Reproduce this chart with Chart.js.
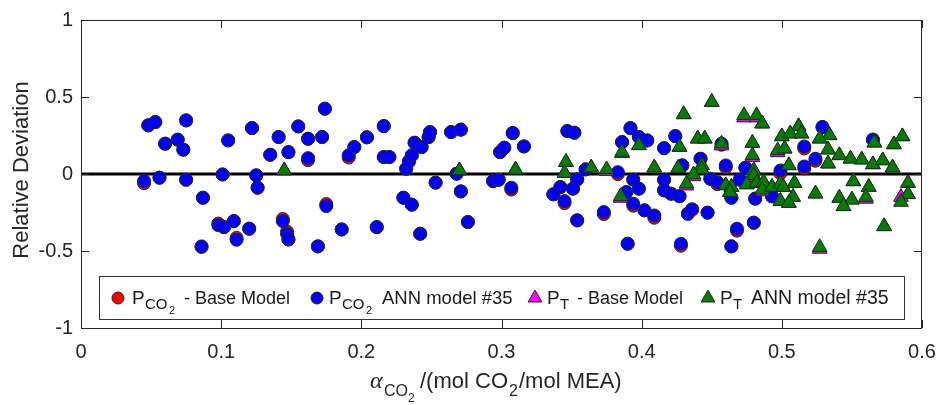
<!DOCTYPE html>
<html>
<head>
<meta charset="utf-8">
<title>Relative deviation vs CO2 loading</title>
<script src="https://cdn.jsdelivr.net/npm/chart.js@4.4.1/dist/chart.umd.min.js"></script>
<style>
  html, body { margin: 0; padding: 0; background: #fff; }
</style>
</head>
<body>
<canvas id="dev-chart" width="938" height="405"></canvas>
<script>
// CO2 partial pressure points: loading, ANN deviation, base model deviation
const co2Alpha = [
  0.045, 0.048, 0.053, 0.056, 0.060, 0.069, 0.073, 0.075, 0.075, 0.087,
  0.086, 0.098, 0.102, 0.105, 0.101, 0.109, 0.111, 0.120, 0.122, 0.125,
  0.126, 0.135, 0.141, 0.148, 0.155, 0.162, 0.162, 0.172, 0.174, 0.144,
  0.147, 0.148, 0.169, 0.175, 0.186, 0.191, 0.195, 0.204, 0.216, 0.216,
  0.220, 0.211, 0.230, 0.236, 0.232, 0.234, 0.236, 0.238, 0.243, 0.248,
  0.249, 0.242, 0.253, 0.264, 0.271, 0.268, 0.271, 0.276, 0.294, 0.298,
  0.299, 0.302, 0.308, 0.316, 0.307, 0.347, 0.352, 0.354, 0.342, 0.351,
  0.337, 0.345, 0.354, 0.360, 0.383, 0.373, 0.392, 0.386, 0.398, 0.394,
  0.398, 0.389, 0.394, 0.402, 0.390, 0.404, 0.424, 0.416, 0.429, 0.442,
  0.457, 0.460, 0.474, 0.499, 0.416, 0.416, 0.421, 0.427, 0.449, 0.454,
  0.464, 0.470, 0.481, 0.493, 0.409, 0.433, 0.436, 0.447, 0.468, 0.480,
  0.428, 0.464, 0.529, 0.516, 0.524, 0.516, 0.565
];
const co2AnnDev = [
  -0.046, 0.316, 0.337, -0.024, 0.197, 0.223, 0.158, 0.348, -0.037, -0.154,
  -0.470, -0.332, -0.345, 0.218, -0.003, -0.306, -0.427, -0.355, 0.298, -0.009,
  -0.089, 0.125, 0.240, 0.142, 0.309, 0.229, 0.103, 0.240, 0.424, -0.306,
  -0.388, -0.425, -0.470, -0.208, -0.360, 0.121, 0.175, 0.238, 0.311, 0.110,
  0.110, -0.345, -0.154, -0.199, 0.034, 0.082, 0.121, 0.203, 0.175, 0.240,
  0.272, -0.388, -0.056, 0.272, 0.288, 0.002, -0.113, -0.312, -0.046, -0.037,
  0.142, 0.171, 0.266, 0.179, -0.089, 0.279, 0.268, -0.035, -0.085, -0.095,
  -0.132, -0.176, -0.301, 0.030, 0.012, -0.247, 0.298, 0.207, 0.240, -0.037,
  -0.095, -0.118, -0.193, -0.236, -0.453, 0.218, 0.246, 0.168, 0.056, 0.099,
  0.197, 0.056, 0.041, 0.023, -0.037, -0.106, -0.128, -0.144, -0.031, -0.053,
  -0.154, -0.037, -0.160, -0.145, -0.269, -0.258, -0.230, -0.251, -0.355, -0.316,
  -0.453, -0.470, 0.305, 0.179, 0.099, 0.049, 0.223
];
const co2BaseDev = [
  -0.060, 0.316, 0.337, -0.024, 0.197, 0.223, 0.158, 0.348, -0.037, -0.154,
  -0.474, -0.322, -0.345, 0.218, -0.003, -0.306, -0.415, -0.355, 0.298, -0.009,
  -0.089, 0.125, 0.240, 0.142, 0.309, 0.229, 0.090, 0.240, 0.424, -0.292,
  -0.374, -0.425, -0.470, -0.195, -0.360, 0.107, 0.175, 0.238, 0.311, 0.110,
  0.110, -0.345, -0.154, -0.199, 0.034, 0.082, 0.121, 0.203, 0.175, 0.240,
  0.272, -0.388, -0.056, 0.272, 0.288, 0.002, -0.113, -0.312, -0.046, -0.037,
  0.142, 0.171, 0.266, 0.179, -0.101, 0.279, 0.268, -0.035, -0.085, -0.095,
  -0.132, -0.189, -0.301, 0.030, -0.001, -0.260, 0.298, 0.207, 0.240, -0.037,
  -0.095, -0.118, -0.206, -0.236, -0.453, 0.218, 0.246, 0.168, 0.056, 0.099,
  0.190, 0.044, 0.041, 0.005, -0.037, -0.106, -0.128, -0.144, -0.031, -0.066,
  -0.154, -0.037, -0.160, -0.145, -0.284, -0.258, -0.230, -0.251, -0.368, -0.316,
  -0.466, -0.470, 0.305, 0.166, 0.086, 0.036, 0.223
];

// total pressure points
const ptAlpha = [
  0.145, 0.270, 0.310, 0.346, 0.345, 0.364, 0.375, 0.386, 0.398, 0.385,
  0.450, 0.430, 0.473, 0.482, 0.486, 0.427, 0.440, 0.445, 0.457, 0.479,
  0.479, 0.497, 0.500, 0.409, 0.426, 0.443, 0.443, 0.480, 0.480, 0.437,
  0.432, 0.460, 0.464, 0.463, 0.475, 0.482, 0.487, 0.486, 0.493, 0.499,
  0.499, 0.512, 0.506, 0.514, 0.534, 0.527, 0.502, 0.533, 0.505, 0.533,
  0.541, 0.549, 0.557, 0.565, 0.572, 0.579, 0.566, 0.580, 0.586, 0.509,
  0.501, 0.508, 0.505, 0.524, 0.551, 0.562, 0.560, 0.550, 0.541, 0.544,
  0.590, 0.590, 0.585, 0.573, 0.527
];
const ptAnnDev = [
  0.023, 0.023, 0.028, 0.077, 0.006, 0.041, 0.030, 0.142, 0.186, -0.145,
  0.467, 0.387, 0.381, 0.381, 0.327, 0.175, 0.229, 0.229, 0.197, 0.201,
  0.121, 0.153, 0.244, 0.041, 0.038, 0.056, 0.030, 0.023, -0.009, -0.003,
  -0.063, -0.074, -0.085, -0.118, -0.068, -0.059, -0.053, -0.102, -0.085, -0.063,
  -0.176, 0.309, 0.262, 0.262, 0.251, 0.229, 0.164, 0.158, 0.056, 0.067,
  0.121, 0.099, 0.093, 0.062, 0.088, 0.041, 0.203, 0.192, 0.244, -0.059,
  -0.085, -0.150, -0.189, -0.128, -0.048, -0.085, -0.150, -0.167, -0.156, -0.210,
  -0.059, -0.132, -0.182, -0.340, -0.475
];
const ptBaseDev = [
  0.023, 0.023, 0.028, 0.077, 0.006, 0.041, 0.019, 0.134, 0.186, -0.156,
  0.467, 0.387, 0.366, 0.366, 0.327, 0.175, 0.229, 0.229, 0.184, 0.201,
  0.108, 0.140, 0.244, 0.041, 0.038, 0.056, 0.030, 0.023, -0.021, -0.016,
  -0.076, -0.074, -0.085, -0.118, -0.068, -0.059, -0.053, -0.114, -0.085, -0.063,
  -0.176, 0.309, 0.262, 0.262, 0.251, 0.229, 0.164, 0.158, 0.056, 0.067,
  0.121, 0.099, 0.093, 0.062, 0.088, 0.041, 0.203, 0.192, 0.244, -0.059,
  -0.085, -0.150, -0.189, -0.128, -0.048, -0.085, -0.162, -0.167, -0.156, -0.210,
  -0.059, -0.132, -0.150, -0.340, -0.487
];

const xTicks = [0, 0.1, 0.2, 0.3, 0.4, 0.5, 0.6];
const yTicks = [-1, -0.5, 0, 0.5, 1];

const FONT = "'Liberation Sans', Arial, Helvetica, sans-serif";
const AXIS_COLOR = "#262626";
const EDGE = "#262626";

const pts = (xs, ys) => xs.map((x, i) => ({ x: x, y: ys[i] }));
const fmt = (v) => String(Math.round(v * 10) / 10);

// draws one line of text made of pieces at set x positions (for subscripts)
function drawPieces(ctx, y, pieces) {
  pieces.forEach(p => {
    ctx.font = (p.style || "") + " " + p.size + "px " + (p.family || FONT);
    ctx.fillText(p.t, p.x, y + (p.dy || 0));
  });
}

function drawMarker(ctx, style, x, y, r, color) {
  ctx.save();
  ctx.fillStyle = color;
  ctx.strokeStyle = EDGE;
  ctx.lineWidth = 1;
  ctx.beginPath();
  if (style === "circle") {
    ctx.arc(x, y, r, 0, Math.PI * 2);
  } else {
    ctx.moveTo(x, y - r);
    ctx.lineTo(x + r * Math.sqrt(3) / 2, y + r / 2);
    ctx.lineTo(x - r * Math.sqrt(3) / 2, y + r / 2);
    ctx.closePath();
  }
  ctx.fill();
  ctx.stroke();
  ctx.restore();
}

const legendItems = [
  { style: "circle", color: "#ff0000", mx: 118, pieces: [
    { t: "P", x: 132, size: 19 },
    { t: "CO", x: 145, size: 15, dy: 5 },
    { t: "2", x: 169, size: 11, dy: 10 },
    { t: "- Base Model", x: 184, size: 18 }
  ] },
  { style: "circle", color: "#0000ff", mx: 317, pieces: [
    { t: "P", x: 329, size: 19 },
    { t: "CO", x: 342, size: 15, dy: 5 },
    { t: "2", x: 366, size: 11, dy: 10 },
    { t: "ANN model #35", x: 382, size: 18.5 }
  ] },
  { style: "triangle", color: "#ff00ff", mx: 535, pieces: [
    { t: "P", x: 547, size: 19 },
    { t: "T", x: 560, size: 15, dy: 5 },
    { t: "- Base Model", x: 577, size: 18 }
  ] },
  { style: "triangle", color: "#007f00", mx: 708, pieces: [
    { t: "P", x: 720, size: 19 },
    { t: "T", x: 733, size: 15, dy: 5 },
    { t: "ANN model #35", x: 751, size: 19.5 }
  ] }
];

const decor = {
  id: "decor",
  beforeDatasetsDraw(chart) {
    const { ctx, chartArea: a, scales } = chart;
    const y0 = scales.y.getPixelForValue(0);
    ctx.save();
    ctx.strokeStyle = "#000";
    ctx.lineWidth = 3;
    ctx.beginPath();
    ctx.moveTo(a.left, y0);
    ctx.lineTo(a.right, y0);
    ctx.stroke();
    ctx.restore();
  },
  afterDraw(chart) {
    const { ctx, chartArea: a, scales } = chart;
    ctx.save();

    // axes box with inward ticks on all sides
    ctx.strokeStyle = AXIS_COLOR;
    ctx.lineWidth = 1;
    ctx.strokeRect(a.left + 0.5, a.top + 0.5, a.right - a.left - 1, a.bottom - a.top);
    const tl = 8;
    ctx.beginPath();
    xTicks.forEach(v => {
      const px = Math.round(scales.x.getPixelForValue(v)) + 0.5;
      ctx.moveTo(px, a.bottom); ctx.lineTo(px, a.bottom - tl);
      ctx.moveTo(px, a.top); ctx.lineTo(px, a.top + tl);
    });
    yTicks.forEach(v => {
      const py = Math.round(scales.y.getPixelForValue(v)) + 0.5;
      ctx.moveTo(a.left, py); ctx.lineTo(a.left + tl, py);
      ctx.moveTo(a.right, py); ctx.lineTo(a.right - tl, py);
    });
    ctx.stroke();

    // legend box
    ctx.fillStyle = "#fff";
    ctx.fillRect(99.5, 276.5, 805, 43);
    ctx.strokeStyle = "#333";
    ctx.strokeRect(99.5, 276.5, 805, 43);
    ctx.textBaseline = "alphabetic";
    ctx.textAlign = "left";
    legendItems.forEach(it => {
      drawMarker(ctx, it.style, it.mx, 298, it.style === "circle" ? 6 : 8, it.color);
      ctx.fillStyle = "#1a1a1a";
      drawPieces(ctx, 304, it.pieces);
    });

    // x axis title
    ctx.fillStyle = AXIS_COLOR;
    drawPieces(ctx, 388, [
      { t: "\u03b1", x: 370, size: 24, style: "italic", family: "'Liberation Serif', 'DejaVu Serif', serif" },
      { t: "CO", x: 384, size: 16, dy: 8 },
      { t: "2", x: 408, size: 12, dy: 14 },
      { t: "/(mol CO", x: 420, size: 22 },
      { t: "2", x: 509, size: 16, dy: 8 },
      { t: "/mol MEA)", x: 519, size: 22 }
    ]);

    // y axis title
    ctx.translate(22, 170);
    ctx.rotate(-Math.PI / 2);
    ctx.textAlign = "center";
    ctx.textBaseline = "middle";
    ctx.font = "22px " + FONT;
    ctx.fillText("Relative Deviation", 0, 0);
    ctx.restore();
  }
};

const marker = (color, style, order) => ({
  backgroundColor: color,
  borderColor: EDGE,
  borderWidth: 1,
  pointStyle: style,
  pointRadius: style === "circle" ? 6.5 : 8.5,
  order: order
});

new Chart(document.getElementById("dev-chart"), {
  type: "scatter",
  data: {
    datasets: [
      { label: "P_CO2 - Base Model", data: pts(co2Alpha, co2BaseDev), ...marker("#ff0000", "circle", 4) },
      { label: "P_CO2 ANN model #35", data: pts(co2Alpha, co2AnnDev), ...marker("#0000ff", "circle", 3) },
      { label: "P_T - Base Model", data: pts(ptAlpha, ptBaseDev), ...marker("#ff00ff", "triangle", 2) },
      { label: "P_T ANN model #35", data: pts(ptAlpha, ptAnnDev), ...marker("#007f00", "triangle", 1) }
    ]
  },
  options: {
    responsive: false,
    animation: false,
    devicePixelRatio: 1,
    events: [],
    layout: { padding: { top: 20, right: 16, left: 0, bottom: 0 } },
    plugins: {
      legend: { display: false },
      tooltip: { enabled: false }
    },
    scales: {
      x: {
        type: "linear",
        min: 0,
        max: 0.6,
        afterBuildTicks: (s) => { s.ticks = xTicks.map(v => ({ value: v })); },
        afterFit: (s) => {
          // keep the plot box edges fixed, the end labels may overhang
          s.height = 77;
          s.paddingLeft = 0;
          s.paddingRight = 0;
        },
        grid: { display: false, drawTicks: false },
        border: { display: false },
        ticks: {
          color: AXIS_COLOR,
          padding: 12,
          maxRotation: 0,
          font: { family: FONT, size: 20 },
          callback: (v) => fmt(v)
        }
      },
      y: {
        type: "linear",
        min: -1,
        max: 1,
        afterBuildTicks: (s) => { s.ticks = yTicks.map(v => ({ value: v })); },
        afterFit: (s) => {
          s.width = 81;
          s.paddingTop = 0;
          s.paddingBottom = 0;
        },
        grid: { display: false, drawTicks: false },
        border: { display: false },
        ticks: {
          color: AXIS_COLOR,
          padding: 8,
          font: { family: FONT, size: 20 },
          callback: (v) => fmt(v)
        }
      }
    }
  },
  plugins: [decor]
});
</script>
</body>
</html>
